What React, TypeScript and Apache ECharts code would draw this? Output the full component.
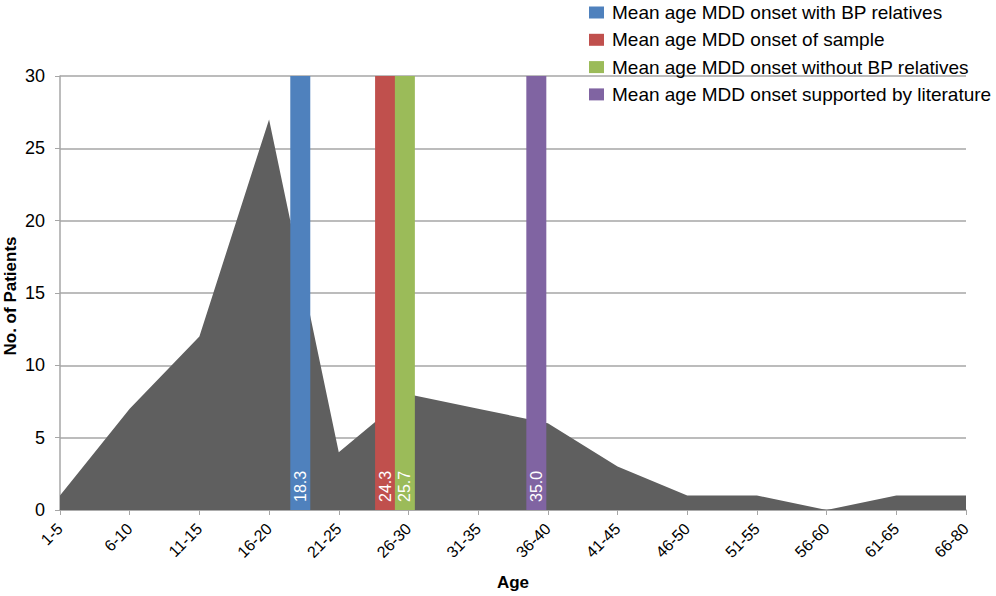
import React, { useEffect, useRef } from "react";
import * as echarts from "echarts";

const ageGroups = ["1-5", "6-10", "11-15", "16-20", "21-25", "26-30", "31-35", "36-40", "41-45", "46-50", "51-55", "56-60", "61-65", "66-80"];
const patientCounts = [1, 7, 12, 27, 4, 8, 7, 6, 3, 1, 1, 0, 1, 1];
const meanNames = [
  "Mean age MDD onset with BP relatives",
  "Mean age MDD onset of sample",
  "Mean age MDD onset without BP relatives",
  "Mean age MDD onset supported by literature",
];
const meanAges = [18.3, 24.3, 25.7, 35.0];
const meanColors = ["#4F81BD", "#C0504D", "#9BBB59", "#8064A2"];
const yMax = 30;
const yStep = 5;
const yTitle = "No. of Patients";
const xTitle = "Age";

const FONT = "'Liberation Sans', Arial, Helvetica, sans-serif";

export default function App() {
  const ref = useRef<HTMLDivElement>(null);
  useEffect(() => {
    document.body.style.margin = "0";
    const chart = echarts.init(ref.current!, undefined, { renderer: "svg" });
    const barSeries = meanNames.map((name, i) => ({
      name,
      type: "bar",
      xAxisIndex: 1,
      yAxisIndex: 0,
      barWidth: 20,
      barGap: "-100%",
      itemStyle: { color: meanColors[i] },
      label: {
        show: true,
        position: "insideBottom",
        rotate: 90,
        align: "left",
        verticalAlign: "middle",
        distance: 8,
        color: "#ffffff",
        fontSize: 16,
        fontFamily: FONT,
        formatter: (p: any) => Number(p.value[0]).toFixed(1),
      },
      data: [[meanAges[i], yMax]],
      z: 3,
    }));
    chart.setOption({
      animation: false,
      backgroundColor: "#ffffff",
      textStyle: { fontFamily: FONT },
      grid: { left: 60, right: 30, top: 76, bottom: 86, outerBoundsMode: "none", containLabel: false },
      legend: {
        data: meanNames,
        orient: "vertical",
        left: 589,
        top: 3,
        padding: 0,
        itemWidth: 15,
        itemHeight: 12,
        itemGap: 8.3,
        icon: "rect",
        textStyle: { fontSize: 19, color: "#000", fontFamily: FONT, padding: [0, 0, 0, 3] },
      },
      graphic: [
        {
          type: "text",
          x: 10,
          y: 296,
          rotation: Math.PI / 2,
          style: {
            text: yTitle,
            fill: "#000",
            font: `bold 17px ${FONT}`,
            textAlign: "center",
            textVerticalAlign: "middle",
          },
        },
      ],
      xAxis: [
        {
          type: "category",
          data: ageGroups,
          boundaryGap: false,
          name: xTitle,
          nameLocation: "middle",
          nameGap: 64,
          nameTextStyle: { fontSize: 17, fontWeight: "bold", color: "#000", fontFamily: FONT },
          axisLine: { show: true, lineStyle: { color: "#A6A6A6", width: 1.5 } },
          axisTick: { show: true, length: 5, lineStyle: { color: "#A6A6A6" } },
          axisLabel: { interval: 0, rotate: 45, fontSize: 16, color: "#000", margin: 16, fontFamily: FONT },
          splitLine: { show: false },
        },
        {
          type: "value",
          min: 1.3,
          max: 65.4,
          show: false,
          splitLine: { show: false },
        },
      ],
      yAxis: {
        type: "value",
        min: 0,
        max: yMax,
        interval: yStep,
        axisLine: { show: true, lineStyle: { color: "#A6A6A6", width: 1.5 } },
        axisTick: { show: true, length: 5, lineStyle: { color: "#A6A6A6" } },
        axisLabel: { fontSize: 18, color: "#000", margin: 15, fontFamily: FONT },
        splitLine: { show: true, lineStyle: { color: "#A6A6A6", width: 1.5 } },
      },
      series: [
        {
          name: "Patients",
          type: "line",
          xAxisIndex: 0,
          yAxisIndex: 0,
          data: patientCounts,
          symbol: "none",
          lineStyle: { width: 0 },
          areaStyle: { color: "#5F5F5F", opacity: 1 },
          z: 2,
        },
        ...barSeries,
      ],
    });
    return () => chart.dispose();
  }, []);
  return <div ref={ref} style={{ position: "absolute", left: 0, top: 0, width: 996, height: 596, background: "#fff" }} />;
}
